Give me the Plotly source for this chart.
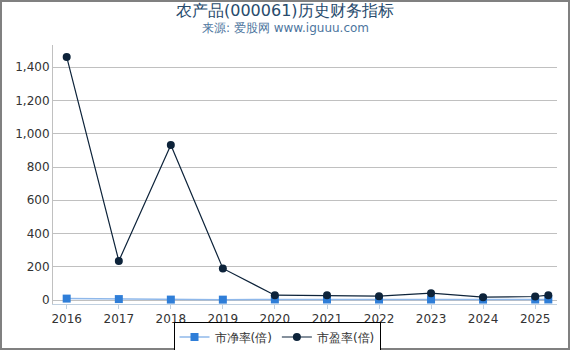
import plotly.graph_objects as go

dates = ["2016-01-01", "2017-01-01", "2018-01-01", "2019-01-01", "2020-01-01",
         "2021-01-01", "2022-01-01", "2023-01-01", "2024-01-01", "2025-01-01", "2025-04-03"]
pb = [8.5, 5.6, 2.5, 2.2, 3.5, 3.2, 2.8, 3.0, 2.6, 3.1, 3.3]
pe = [1462, 235, 933, 190, 29, 28, 23, 41, 17, 21, 29]
tick_vals = ["2016-01-01", "2017-01-01", "2018-01-01", "2019-01-01", "2020-01-01",
             "2021-01-01", "2022-01-01", "2023-01-01", "2024-01-01", "2025-01-01"]
tick_text = ["2016", "2017", "2018", "2019", "2020", "2021", "2022", "2023", "2024", "2025"]
title_text = "农产品(000061)历史财务指标"
subtitle_text = "来源: 爱股网 www.iguuu.com"

ML, MR, MT, MB = 53, 13, 45, 46
W, H = 570, 350
PW, PH = W - ML - MR, H - MT - MB

fig = go.Figure()
fig.add_trace(go.Scatter(x=dates, y=pb, name="市净率(倍)", mode="lines+markers",
                         line=dict(color="#8fb8ea", width=1.5),
                         marker=dict(symbol="square", size=8, color="#2f7ed8")))
fig.add_trace(go.Scatter(x=dates, y=pe, name="市盈率(倍)", mode="lines+markers",
                         line=dict(color="#0d233a", width=1.2),
                         marker=dict(symbol="circle", size=8, color="#0d233a")))

fig.update_layout(
    width=W, height=H,
    margin=dict(l=ML, r=MR, t=MT, b=MB, autoexpand=False),
    paper_bgcolor="white", plot_bgcolor="white",
    font=dict(family="DejaVu Sans, sans-serif", color="#333333"),
    showlegend=True,
    legend=dict(orientation="h", x=(277 - ML) / PW, xanchor="center", y=(304 - 337) / PH, yanchor="middle",
                bordercolor="#000000", borderwidth=1, font=dict(size=12, color="#333333"),
                itemwidth=30, tracegroupgap=0),
    xaxis=dict(type="date", range=["2015-09-27", "2025-06-03"],
               tickvals=tick_vals, ticktext=tick_text,
               showgrid=False, showline=True, linecolor="#c0d0e0", linewidth=1,
               ticks="outside", ticklen=4, tickcolor="#c0d0e0",
               tickfont=dict(size=12, color="#333333"), zeroline=False),
    yaxis=dict(range=[-24, 1534], dtick=200, tickformat=",",
               showgrid=True, gridcolor="#c0c0c0", gridwidth=1,
               showline=True, linecolor="#c0c0c0", linewidth=1,
               zeroline=False, ticks="", tickfont=dict(size=12, color="#333333")),
    annotations=[
        dict(text=title_text, xref="paper", yref="paper", x=(285 - ML) / PW, y=1 + (MT - 10) / PH,
             xanchor="center", yanchor="middle", showarrow=False,
             font=dict(size=16, color="#274b6d")),
        dict(text=subtitle_text, xref="paper", yref="paper", x=(285 - ML) / PW, y=1 + (MT - 28) / PH,
             xanchor="center", yanchor="middle", showarrow=False,
             font=dict(size=12, color="#4d759e")),
    ],
    shapes=[dict(type="rect", xref="paper", yref="paper",
                 x0=-ML / PW, x1=1 + MR / PW, y0=-MB / PH, y1=1 + MT / PH,
                 line=dict(color="#808080", width=4), fillcolor="rgba(0,0,0,0)")],
)

fig.write_html("out.html")
